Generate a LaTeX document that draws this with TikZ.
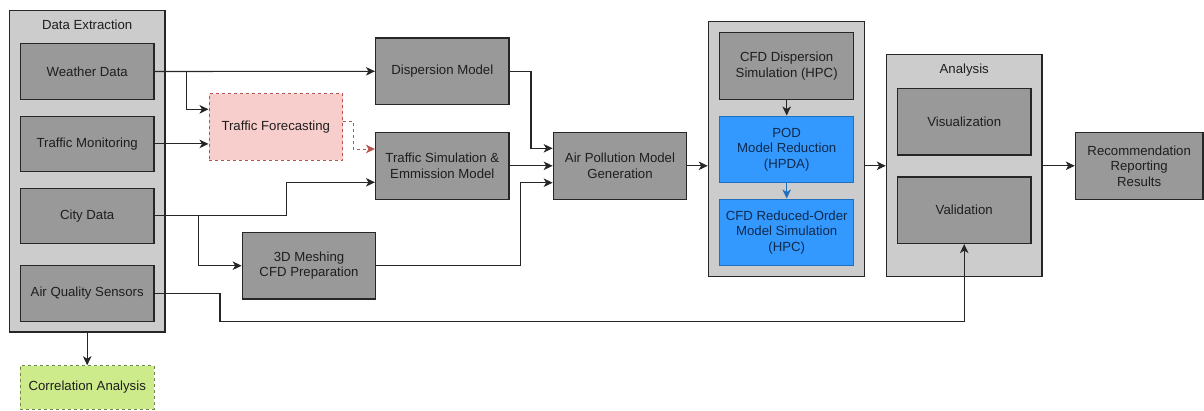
\documentclass[tikz,border=0pt]{standalone}
\usepackage{fontspec}
\setmainfont{Liberation Sans}
\usetikzlibrary{arrows.meta}
\definecolor{contfill}{HTML}{CCCCCC}
\definecolor{boxfill}{HTML}{999999}
\definecolor{edge}{HTML}{262626}
\definecolor{bluefill}{HTML}{3399FF}
\definecolor{blueedge}{HTML}{1F6FC0}
\definecolor{bluetext}{HTML}{102A4C}
\definecolor{pinkfill}{HTML}{F8CECC}
\definecolor{pinkedge}{HTML}{B85450}
\definecolor{greenfill}{HTML}{CDEB8B}
\definecolor{greenedge}{HTML}{6B8A4A}
\definecolor{txt}{HTML}{1E1E1E}
\begin{document}
\begin{tikzpicture}[x=1pt,y=-1pt,
  every node/.style={font=\fontsize{13.2}{15.5}\selectfont, text=txt, align=center, inner sep=0pt},
  container/.style={draw=edge, fill=contfill, line width=1.2pt},
  box/.style={draw=edge, fill=boxfill, line width=1.2pt, minimum width=133.5pt, minimum height=66.6pt},
  bluebox/.style={draw=blueedge, fill=bluefill, line width=1pt, text=bluetext, minimum width=134pt, minimum height=66.6pt},
  pinkbox/.style={draw=pinkedge, fill=pinkfill, line width=0.9pt, dash pattern=on 3pt off 3pt, minimum width=133.7pt, minimum height=66.6pt},
  greenbox/.style={draw=greenedge, fill=greenfill, line width=0.9pt, dash pattern=on 3pt off 3pt, minimum width=133.7pt, minimum height=43.6pt},
  conn/.style={draw=edge, line width=1.1pt, -{Stealth[length=9pt,width=8.5pt,inset=2.5pt]}},
  redconn/.style={draw=pinkedge, line width=0.9pt, dash pattern=on 3pt off 3pt, -{Stealth[length=9pt,width=8.5pt,inset=2.5pt]}},
  blueconn/.style={draw=blueedge, line width=1.1pt, -{Stealth[length=9pt,width=8.5pt,inset=2.5pt]}},
]
\useasboundingbox (0,0) rectangle (1204,410);

% containers
\node[container, minimum width=155.7pt, minimum height=321.7pt] (de) at (87.2,171.2) {};
\node (detitle) at (87.2,25) {Data Extraction};
\node[container, minimum width=156pt, minimum height=255pt] (hpc) at (786.3,149.2) {};
\node[container, minimum width=155.7pt, minimum height=222.4pt] (ana) at (964.2,165.5) {};
\node (anatitle) at (964.2,70) {Analysis};

% data extraction boxes
\node[box, minimum width=133.7pt, minimum height=55.6pt] (weather) at (87.2,71.5) {Weather Data};
\node[box, minimum width=133.7pt, minimum height=55.6pt] (traffic) at (87.2,143.9) {Traffic Monitoring};
\node[box, minimum width=133.7pt, minimum height=55.6pt] (city) at (87.2,215.9) {City Data};
\node[box, minimum width=133.7pt, minimum height=55.6pt] (aqs) at (87.2,293.5) {Air Quality Sensors};
\node[greenbox] (corr) at (87.2,387.5) {Correlation Analysis};

% middle
\node[pinkbox] (tf) at (275.8,127) {Traffic Forecasting};
\node[box] (disp) at (442.3,71.3) {Dispersion Model};
\node[box] (tsim) at (442.3,165.8) {Traffic Simulation \&\\Emmission Model};
\node[box] (mesh) at (309,265.7) {3D Meshing\\CFD Preparation};
\node[box] (apm) at (620,165.8) {Air Pollution Model\\Generation};

% HPC
\node[box, minimum width=134pt] (cfdd) at (786.7,66) {CFD Dispersion\\Simulation (HPC)};
\node[bluebox] (pod) at (786.7,149.3) {POD\\Model Reduction\\(HPDA)};
\node[bluebox] (rom) at (786.7,232.3) {CFD Reduced-Order\\Model Simulation\\(HPC)};

% analysis
\node[box, minimum width=133.7pt] (vis) at (964.2,121.7) {Visualization};
\node[box, minimum width=133.7pt] (val) at (964.2,210.2) {Validation};
\node[box, minimum width=127.7pt, minimum height=67pt] (rec) at (1139.2,165.8) {Recommendation\\Reporting\\Results};

% helper coordinates
\coordinate (wb) at (186.7,71.5);
\coordinate (cb) at (198.3,215.9);

% connectors
\draw[conn] (weather.east) -- (disp.west);
\draw[conn] (wb) |- (tf.west |- 0,109.3);
\draw[conn] (traffic.east) -- (traffic.east -| tf.west);
\draw[redconn] (tf.east |- 0,121.3) -- (353.3,121.3) |- (tsim.west |- 0,149);
\draw[conn] (city.east) -- (286.7,215.9) |- (tsim.west |- 0,182.3);
\draw[conn] (cb) |- (mesh.west);
\draw[conn] (aqs.east) -- (220,293.5) |- (964.2,321.3) -- (val.south);
\draw[conn] (disp.east) -- (531,71.3) |- (apm.west |- 0,148.3);
\draw[conn] (tsim.east) -- (apm.west);
\draw[conn] (mesh.east) -- (520.7,265.7) |- (apm.west |- 0,182.7);
\draw[conn] (apm.east) -- (hpc.west |- apm.east);
\draw[conn] (hpc.east |- apm.east) -- (ana.west |- apm.east);
\draw[conn] (ana.east |- rec.west) -- (rec.west);
\draw[conn] (cfdd.south) -- (pod.north);
\draw[blueconn] (pod.south) -- (rom.north);
\draw[conn] (de.south) -- (corr.north);
\end{tikzpicture}
\end{document}
